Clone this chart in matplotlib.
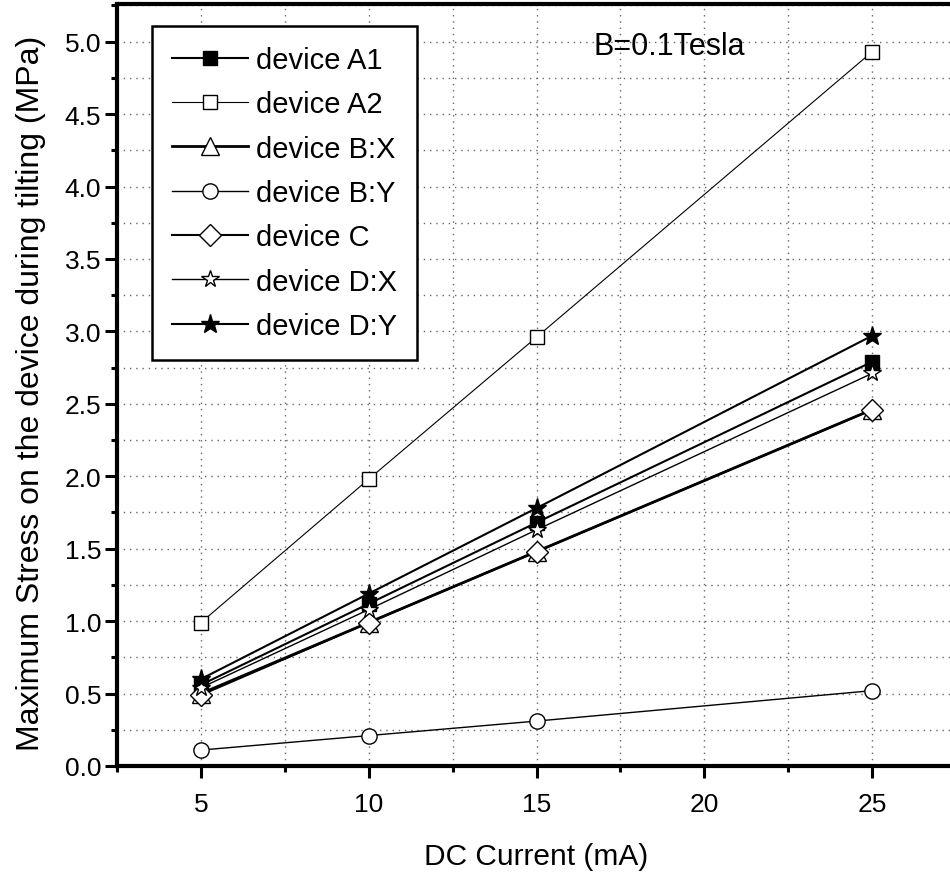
import numpy as np
import matplotlib
matplotlib.use("Agg")
import matplotlib.pyplot as plt
from matplotlib.ticker import MultipleLocator, FormatStrFormatter

plt.rcParams['font.family'] = ['Liberation Sans', 'DejaVu Sans']

# Data
current = [5, 10, 15, 25]
labels = ["device A1", "device A2", "device B:X", "device B:Y",
          "device C", "device D:X", "device D:Y"]
stress_a1 = [0.56, 1.12, 1.68, 2.79]
stress_a2 = [0.99, 1.98, 2.96, 4.93]
stress_bx = [0.50, 0.99, 1.48, 2.46]
stress_by = [0.11, 0.21, 0.31, 0.52]
stress_c = [0.49, 0.99, 1.48, 2.46]
stress_dx = [0.54, 1.08, 1.63, 2.71]
stress_dy = [0.60, 1.19, 1.78, 2.97]

series = [stress_a1, stress_a2, stress_bx, stress_by, stress_c, stress_dx, stress_dy]
markers = ["s", "s", "^", "o", "D", "*", "*"]
filled = [True, False, False, False, False, False, True]
msizes = [10, 10, 13, 11, 11, 13, 14]
lws = [1.5, 0.8, 2.0, 1.0, 1.5, 1.0, 1.5]

fig = plt.figure(figsize=(9.5, 8.79), dpi=100)
ax = fig.add_axes([117 / 950, 112 / 879, (956 - 117) / 950, (767 - 5) / 879])

for y, lab, m, f, ms, lw in zip(series, labels, markers, filled, msizes, lws):
    ax.plot(current, y, color="black", lw=lw, marker=m, ms=ms,
            mfc="black" if f else "white", mec="black", mew=1.0, label=lab)

ax.set_xlim(2.5, 27.5)
ax.set_ylim(0, 5.26)
ax.xaxis.set_major_locator(MultipleLocator(5))
ax.xaxis.set_minor_locator(MultipleLocator(2.5))
ax.yaxis.set_major_locator(MultipleLocator(0.5))
ax.yaxis.set_minor_locator(MultipleLocator(0.25))
ax.yaxis.set_major_formatter(FormatStrFormatter("%.1f"))

ax.grid(which="both", color="0.4", linestyle=(0, (1, 3.5)), linewidth=1.0)
ax.set_axisbelow(True)

for s in ax.spines.values():
    s.set_linewidth(3)
ax.tick_params(which="major", direction="out", length=8.5, width=2.2, labelsize=19)
ax.tick_params(which="minor", direction="out", length=4.5, width=2.2)
ax.tick_params(axis="x", pad=10)
ax.tick_params(axis="y", pad=3)

ax.set_xlabel("DC Current (mA)", fontsize=21.5)
ax.xaxis.set_label_coords(0.5, -0.1)
ax.set_ylabel("Maximum Stress on the device during tilting (MPa)", fontsize=23)
ax.yaxis.set_label_coords(-0.085, 0.49)

ax.text(16.7, 4.97, "B=0.1Tesla", fontsize=22, va="center", ha="left")

leg = ax.legend(loc="upper left", bbox_to_anchor=(0.042, 0.971), fontsize=21,
                frameon=True, fancybox=False, edgecolor="black", framealpha=1,
                handlelength=2.6, labelspacing=0.56, handletextpad=0.28,
                borderpad=0.68, borderaxespad=0)
leg.get_frame().set_linewidth(1.8)

fig.savefig("out.png", dpi=100)
